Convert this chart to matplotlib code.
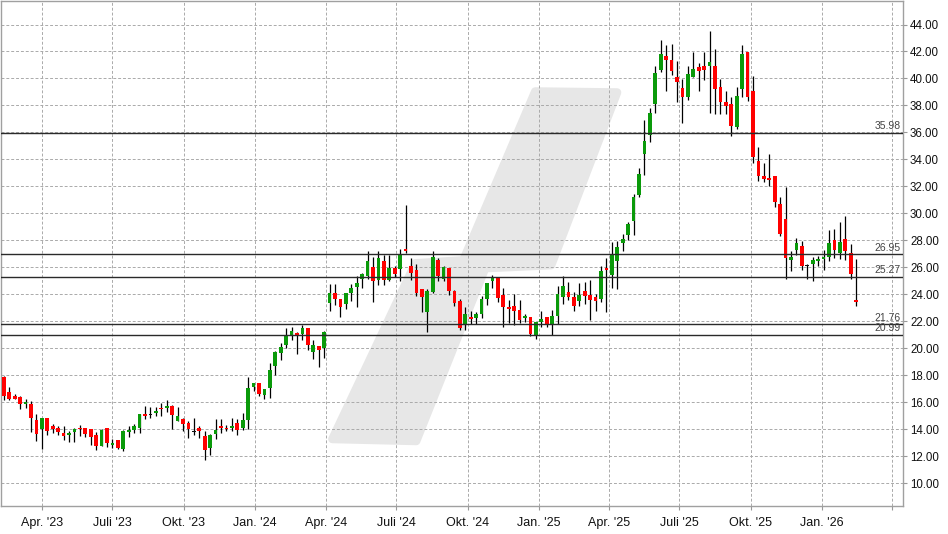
import numpy as np
import pandas as pd
import matplotlib
matplotlib.use('Agg')
import matplotlib.pyplot as plt
import matplotlib.dates as mdates
from matplotlib.patches import Polygon

plt.rcParams['font.family'] = ['Liberation Sans', 'DejaVu Sans']

opens = [17.85, 16.72, 16.42, 16.35, 15.85, 15.83, 14.64, 13.98, 14.86, 14.22,
         14.05, 13.68, 13.56, 13.78, 14.12, 14.10, 14.02, 13.60, 12.74, 14.10,
         12.81, 13.16, 12.50, 13.78, 13.93, 14.05, 15.09, 15.02, 15.19, 15.60,
         15.56, 15.68, 14.57, 14.72, 14.42, 13.80, 14.12, 13.46, 12.59, 13.63,
         14.20, 14.12, 14.05, 14.42, 14.12, 14.67, 17.14, 17.41, 16.52, 17.06,
         18.69, 19.65, 20.25, 20.96, 21.11, 21.04, 21.48, 19.73, 20.20, 19.98,
         23.37, 24.07, 23.67, 23.25, 24.12, 24.56, 25.10, 25.37, 26.02, 25.08,
         26.46, 25.08, 25.94, 25.89, 27.35, 26.09, 25.79, 24.39, 22.71, 24.19,
         26.53, 25.13, 25.94, 24.24, 23.50, 21.70, 22.31, 22.24, 22.56, 23.65,
         24.99, 25.21, 23.93, 23.04, 23.11, 22.81, 22.22, 22.30, 20.94, 21.93,
         22.30, 21.75, 22.37, 23.80, 24.15, 23.78, 23.48, 24.22, 23.93, 23.78,
         23.63, 25.93, 25.41, 26.47, 27.81, 28.40, 29.44, 31.34, 34.42, 35.78,
         38.08, 40.60, 41.63, 41.34, 40.08, 39.31, 38.62, 40.10, 40.82, 40.89,
         40.92, 40.89, 39.34, 38.25, 38.13, 36.40, 39.19, 41.93, 39.04, 33.86,
         32.74, 32.61, 32.74, 30.66, 29.60, 26.51, 27.25, 27.60, 26.12, 26.22,
         26.46, 26.59, 26.76, 27.99, 27.06, 28.07, 27.03, 23.55]
highs = [17.93, 17.09, 16.57, 16.44, 16.20, 16.05, 15.09, 14.86, 14.86, 14.35,
         14.22, 14.22, 13.85, 14.10, 14.27, 14.10, 14.02, 13.80, 13.98, 14.10,
         13.28, 13.16, 13.90, 14.22, 14.35, 15.09, 15.70, 15.63, 15.63, 15.90,
         16.15, 15.80, 15.63, 14.86, 14.57, 14.86, 14.22, 13.85, 13.63, 14.72,
         14.72, 14.27, 14.86, 14.72, 15.21, 17.88, 17.41, 17.41, 16.96, 18.89,
         19.78, 20.40, 21.53, 21.58, 21.21, 21.75, 21.48, 20.59, 20.20, 21.31,
         24.76, 24.76, 23.67, 24.12, 24.78, 25.33, 25.55, 27.20, 26.78, 27.18,
         26.90, 26.93, 26.09, 27.35, 30.61, 26.68, 26.24, 24.39, 24.36, 27.20,
         26.68, 26.09, 25.94, 24.31, 23.65, 23.03, 22.76, 22.71, 23.89, 24.83,
         25.41, 25.21, 24.49, 23.60, 24.00, 23.60, 22.57, 22.30, 21.93, 22.77,
         22.30, 22.86, 24.59, 25.33, 24.89, 24.15, 24.84, 24.91, 25.04, 24.00,
         26.07, 26.70, 27.87, 27.92, 28.45, 29.36, 31.46, 33.36, 36.89, 37.83,
         40.89, 42.82, 42.45, 42.57, 41.26, 39.93, 40.89, 41.98, 41.16, 41.93,
         43.49, 42.20, 39.98, 39.04, 38.60, 39.34, 42.45, 41.93, 40.15, 34.92,
         33.75, 34.37, 32.74, 31.20, 31.95, 27.18, 28.14, 27.92, 26.27, 26.76,
         26.81, 27.30, 28.74, 28.84, 29.35, 29.80, 27.70, 26.64]
lows = [16.15, 16.15, 16.20, 15.46, 15.53, 13.78, 13.11, 12.50, 13.60, 13.68,
        13.56, 13.19, 13.04, 13.04, 13.48, 13.41, 12.81, 12.47, 12.72, 12.69,
        12.62, 12.50, 12.37, 13.43, 13.73, 13.70, 14.72, 14.81, 14.94, 14.94,
        15.26, 13.98, 14.57, 13.85, 13.31, 13.53, 13.31, 11.70, 12.05, 13.24,
        13.68, 13.85, 13.85, 13.53, 13.90, 14.00, 16.84, 16.47, 16.20, 16.32,
        18.00, 19.11, 20.05, 20.59, 19.58, 20.59, 19.85, 19.19, 18.62, 19.28,
        22.78, 23.23, 22.34, 22.91, 23.52, 23.08, 24.49, 25.15, 23.45, 24.68,
        24.68, 24.98, 25.25, 25.00, 27.03, 25.03, 23.87, 22.71, 21.23, 24.07,
        25.00, 25.00, 23.97, 23.15, 21.35, 21.35, 21.77, 21.79, 22.26, 23.20,
        24.47, 23.43, 21.58, 21.88, 21.70, 21.88, 21.93, 20.89, 20.69, 21.58,
        21.58, 20.99, 21.78, 23.31, 23.60, 22.77, 23.16, 23.31, 22.07, 22.77,
        23.43, 22.69, 24.50, 24.40, 27.21, 28.00, 28.40, 31.21, 32.82, 35.29,
        37.44, 40.50, 39.07, 40.23, 38.25, 36.70, 38.37, 40.10, 39.07, 39.86,
        37.44, 37.39, 37.39, 37.39, 35.71, 36.28, 38.62, 38.33, 33.73, 32.40,
        32.32, 32.02, 30.46, 28.29, 25.13, 25.72, 26.88, 25.82, 25.16, 24.98,
        26.12, 25.82, 26.46, 26.66, 26.59, 26.51, 25.16, 23.13]
closes = [16.44, 16.27, 16.27, 15.85, 16.00, 14.79, 13.63, 14.81, 13.83, 14.00,
          13.78, 13.48, 13.70, 14.00, 14.00, 13.63, 13.43, 12.74, 13.90, 12.96,
          12.99, 12.59, 13.85, 13.93, 14.20, 15.09, 14.94, 15.02, 15.33, 15.46,
          15.70, 15.04, 14.94, 14.35, 13.98, 13.80, 13.85, 12.44, 13.53, 13.90,
          14.05, 14.00, 14.20, 13.93, 14.67, 17.04, 17.41, 16.64, 16.96, 18.37,
          19.70, 20.10, 20.94, 21.26, 20.94, 21.48, 20.22, 20.22, 19.85, 21.19,
          24.07, 23.67, 23.08, 24.07, 24.49, 24.83, 25.47, 26.46, 25.00, 26.68,
          25.08, 25.94, 25.52, 26.93, 27.20, 25.57, 24.12, 23.82, 24.21, 26.76,
          25.37, 26.02, 24.26, 23.37, 21.52, 22.54, 22.19, 22.56, 23.65, 24.83,
          25.21, 23.75, 23.06, 22.89, 22.77, 22.07, 22.42, 21.04, 21.93, 22.15,
          21.75, 22.42, 24.00, 24.59, 23.80, 23.14, 23.93, 23.88, 23.56, 23.51,
          25.75, 25.78, 26.96, 27.51, 28.10, 29.24, 31.21, 32.89, 35.34, 37.41,
          40.37, 41.78, 41.34, 40.55, 39.71, 38.62, 40.30, 40.72, 40.55, 40.62,
          41.19, 39.19, 38.25, 37.96, 36.45, 38.67, 41.83, 38.62, 34.18, 32.77,
          32.54, 32.44, 30.81, 28.49, 26.69, 26.76, 27.77, 26.09, 26.12, 26.51,
          26.61, 26.76, 27.77, 27.25, 27.87, 27.20, 25.50, 23.43]

# Unterstuetzungs-/Widerstandslinien
levels = [35.98, 26.95, 25.27, 21.76, 20.99]

# Achsenbeschriftungen
y_ticks = list(range(10, 46, 2))
x_tick_dates = pd.date_range('2023-04-01', '2026-04-01', freq='QS')
x_tick_labels = ["Apr. '23", "Juli '23", "Okt. '23", "Jan. '24", "Apr. '24",
                 "Juli '24", "Okt. '24", "Jan. '25", "Apr. '25", "Juli '25",
                 "Okt. '25", "Jan. '26", ""]

dates = pd.date_range('2023-02-11', periods=len(opens), freq='7D')

df = pd.DataFrame({'open': opens, 'high': highs, 'low': lows, 'close': closes},
                  index=dates)
x = mdates.date2num(df.index.to_pydatetime())

colors = np.where(df['close'] > df['open'], '#0a9a0a',
                  np.where(df['close'] < df['open'], '#ff0000', '#111111'))
body_bottom = np.minimum(df['open'], df['close'])
body_height = np.maximum(np.abs(df['close'] - df['open']), 0.08)

fig = plt.figure(figsize=(9.48, 5.34), dpi=100)
ax = fig.add_axes([0.5 / 948, 28 / 534, 902.5 / 948, 505.5 / 534])
ax.set_axisbelow(True)

# Wasserzeichen (Schraegstrich im Hintergrund), in Achsenkoordinaten
W, H = 903.0, 506.0
wm_px = [(332, 439), (416, 441), (485, 268), (551, 265), (617, 92),
         (535, 91), (463, 260), (415, 263)]
wm = Polygon([(px / W, (H - py) / H) for px, py in wm_px], closed=True,
             transform=ax.transAxes, facecolor='#e7e7e7', edgecolor='#e7e7e7',
             linewidth=6, joinstyle='round', zorder=0.1)
ax.add_patch(wm)

# Kerzen
ax.vlines(x, df['low'], df['high'], color='black', linewidth=0.9, zorder=2)
ax.bar(x, body_height, bottom=body_bottom, width=4.8, color=colors,
       linewidth=0, zorder=3)

# Horizontale Linien mit Werten
for lv in levels:
    ax.axhline(lv, color='#2a2a2a', linewidth=1.0, zorder=4)
    ax.annotate(f'{lv:.2f}', xy=(1.0, lv), xycoords=('axes fraction', 'data'),
                xytext=(-1.5, 1.2), textcoords='offset points', ha='right',
                va='bottom', fontsize=7.5, color='#444444', zorder=5)

ax.set_xlim(mdates.date2num(pd.Timestamp('2023-02-06 18:00')),
            mdates.date2num(pd.Timestamp('2026-04-15 08:00')))
ax.set_ylim(8.3, 45.78)

ax.set_xticks(mdates.date2num(x_tick_dates.to_pydatetime()))
ax.set_xticklabels(x_tick_labels)
ax.set_yticks(y_ticks)
ax.set_yticklabels([f'{v:.2f}' for v in y_ticks])
ax.yaxis.tick_right()

ax.tick_params(axis='x', length=3, color='#999999', labelsize=9,
               labelcolor='#111111', pad=5)
ax.tick_params(axis='y', length=3, color='#999999', labelsize=8.3,
               labelcolor='#111111', pad=2)

ax.grid(True, color='#aaaaaa', linestyle=(0, (3, 2)), linewidth=0.7)
for s in ax.spines.values():
    s.set_color('#a0a0a0')
    s.set_linewidth(1.0)

plt.savefig('out.png', dpi=100)
